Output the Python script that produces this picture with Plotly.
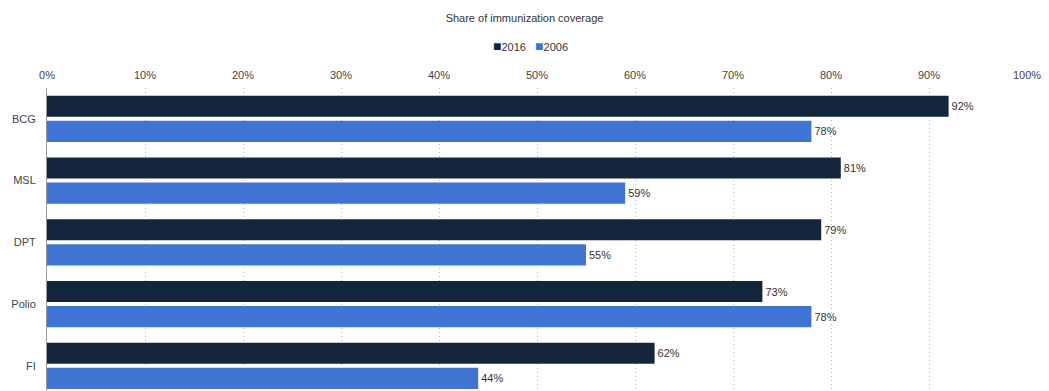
import plotly.graph_objects as go

categories = ["BCG", "MSL", "DPT", "Polio", "FI"]
coverage_2016 = [92, 81, 79, 73, 62]
coverage_2006 = [78, 59, 55, 78, 44]
x_ticks = [0, 10, 20, 30, 40, 50, 60, 70, 80, 90, 100]
x_tick_labels = [f"{v}%" for v in x_ticks]

FONT = "Liberation Sans, Arial, sans-serif"
COLOR_2016 = "#14263b"
COLOR_2006 = "#3f74d3"

fig = go.Figure()
fig.add_trace(go.Bar(
    name="2016", y=categories, x=coverage_2016, orientation="h",
    marker=dict(color=COLOR_2016, line=dict(width=0)),
    text=[f"{v}%" for v in coverage_2016], textposition="outside",
    textfont=dict(size=11, color="#333333", family=FONT), cliponaxis=False,
))
fig.add_trace(go.Bar(
    name="2006", y=categories, x=coverage_2006, orientation="h",
    marker=dict(color=COLOR_2006, line=dict(width=0)),
    text=[f"{v}%" for v in coverage_2006], textposition="outside",
    textfont=dict(size=11, color="#333333", family=FONT), cliponaxis=False,
))

# compact legend: small coloured squares next to the series names
legend_text = (
    f"<span style='color:{COLOR_2016};font-size:14px'>■</span>2016"
    f"&nbsp;&nbsp;&nbsp;"
    f"<span style='color:{COLOR_2006};font-size:14px'>■</span>2006"
)

fig.update_layout(
    width=1049, height=391,
    margin=dict(l=47, r=22, t=88, b=0),
    paper_bgcolor="white", plot_bgcolor="white",
    barmode="group", bargap=0.19, bargroupgap=0.16,
    font=dict(family=FONT, size=11, color="#333333"),
    showlegend=False,
    title=dict(text="Share of immunization coverage", x=0.5, xanchor="center",
               y=1 - 18 / 391, yanchor="middle", yref="container",
               font=dict(size=11, color="#333333", family=FONT)),
    annotations=[dict(
        text=legend_text, xref="paper", yref="paper",
        x=(530 - 47) / (1049 - 47 - 22), y=1 + (88 - 46) / 303,
        xanchor="center", yanchor="middle", showarrow=False,
        font=dict(size=11, color="#333333", family=FONT),
    )],
)
fig.update_xaxes(
    range=[0, 100], side="top", tickvals=x_ticks, ticktext=x_tick_labels,
    showgrid=True, gridcolor="#b5b5b5", griddash="1px,3px", gridwidth=1,
    zeroline=False, showline=False, ticks="", ticklabelstandoff=6,
    tickfont=dict(size=11, color="#444444"), fixedrange=True,
)
fig.update_yaxes(
    categoryorder="array", categoryarray=categories,
    range=[4.407, -0.5], showgrid=False, zeroline=False,
    showline=True, linecolor="#999999", linewidth=1,
    ticks="", ticklabelstandoff=8, tickfont=dict(size=11, color="#444444"),
)

fig.write_html("out.html")
